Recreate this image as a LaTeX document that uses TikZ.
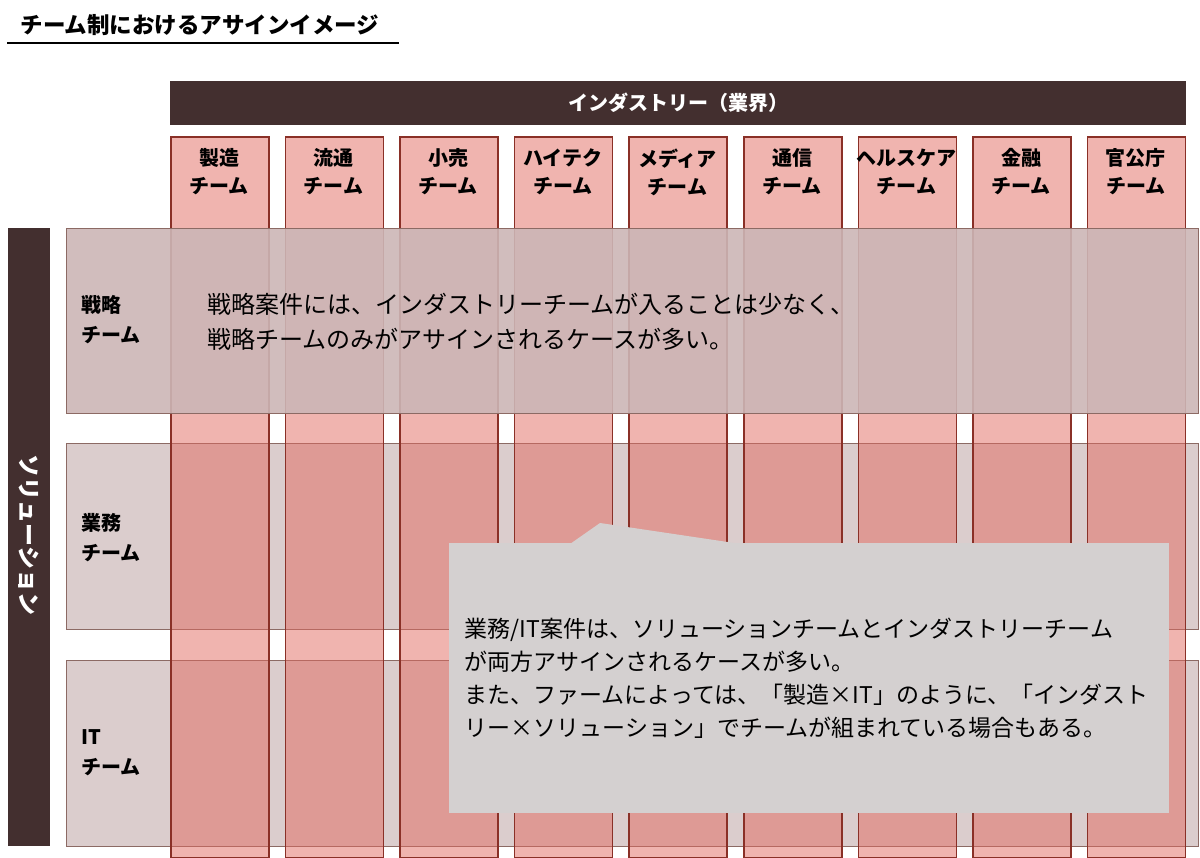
\documentclass[tikz,border=0pt]{standalone}
\usepackage{fontspec}
\setmainfont{Noto Sans CJK JP}

\definecolor{barbrown}{HTML}{432F2F}
\definecolor{colred}{RGB}{225,105,95}
\definecolor{coledge}{HTML}{8A3027}
\definecolor{rowfill}{HTML}{DBCDCD}
\definecolor{rowedge}{HTML}{8C6A64}
\definecolor{stratfill}{RGB}{204,182,182}
\definecolor{notefill}{HTML}{D4D0D0}

\tikzset{
  colbox/.style={draw=coledge, line width=1.6pt, fill=colred, fill opacity=0.5,
    anchor=north west, minimum width=98pt, minimum height=721pt, inner sep=0pt},
  rowbox/.style={draw=rowedge, line width=1pt, fill=rowfill, anchor=north west,
    minimum width=1132pt, minimum height=186pt, inner sep=0pt},
  lbl/.style={font=\bfseries\fontsize{20}{28}\selectfont, align=center},
  rowlbl/.style={font=\bfseries\fontsize{20}{30}\selectfont, align=left, anchor=west},
  bigtxt/.style={font=\fontsize{24}{35}\selectfont, align=left, anchor=west}
}

\begin{document}
\begin{tikzpicture}[x=1pt, y=-1pt]
  \useasboundingbox (0,0) rectangle (1200,858);
	%Title
	\node[anchor=west, font=\bfseries\fontsize{22.5}{22.5}\selectfont] (title) at (17,25) {チーム制におけるアサインイメージ};
	\draw[line width=1.5pt] (7,43) -- (399,43);
	%Industry header
	\node[fill=barbrown, anchor=north west, minimum width=1016pt, minimum height=44pt, inner sep=0pt] (industry) at (170,81) {};
	\node[text=white, font=\bfseries\fontsize{20}{20}\selectfont] (industrylbl) at (industry) {インダストリー（業界）};
	%Solution bar
	\node[fill=barbrown, anchor=north west, minimum width=42pt, minimum height=618pt, inner sep=0pt] (solution) at (8,228) {};
	\node[text=white, rotate=-90, font=\bfseries\fontsize{23}{23}\selectfont] (solutionlbl) at (29,535) {ソリューション};
	%Rows under the columns
	\node[rowbox] (ops) at (66,443) {};
	\node[rowbox] (it) at (66,660) {};
	%Industry columns
	\foreach \ind [count=\i from 0] in {製造,流通,小売,ハイテク,メディア,通信,ヘルスケア,金融,官公庁} {
		\node[colbox] (col\i) at ({170+114.6*\i},136) {};
		\node[lbl] (collbl\i) at ({219+114.6*\i},172) {\ind\\チーム};
	}
	%Strategy row over the columns
	\node[rowbox, fill=stratfill, fill opacity=0.9, minimum height=185pt] (strategy) at (66,228) {};
	%Row labels
	\node[rowlbl] (strategylbl) at (78,320) {戦略\\チーム};
	\node[rowlbl] (opslbl) at (78,538) {業務\\チーム};
	\node[rowlbl] (itlbl) at (78,753) {IT\\チーム};
	%Strategy note
	\node[bigtxt] (strategynote) at (204,322) {戦略案件には、インダストリーチームが入ることは少なく、\\戦略チームのみがアサインされるケースが多い。};
	%Callout
	\node[fill=notefill, anchor=north west, minimum width=720pt, minimum height=270pt, inner sep=0pt] (note) at (449,543) {};
	\coordinate (tip) at (600,523);
	\fill[notefill] (570,544) -- (tip) -- (741,544) -- cycle;
	\node[bigtxt, font=\fontsize{23}{33}\selectfont] (notetxt) at (461,678) {業務/IT案件は、ソリューションチームとインダストリーチーム\\が両方アサインされるケースが多い。\\また、ファームによっては、「製造×IT」のように、「インダスト\\リー×ソリューション」でチームが組まれている場合もある。};
\end{tikzpicture}
\end{document}
